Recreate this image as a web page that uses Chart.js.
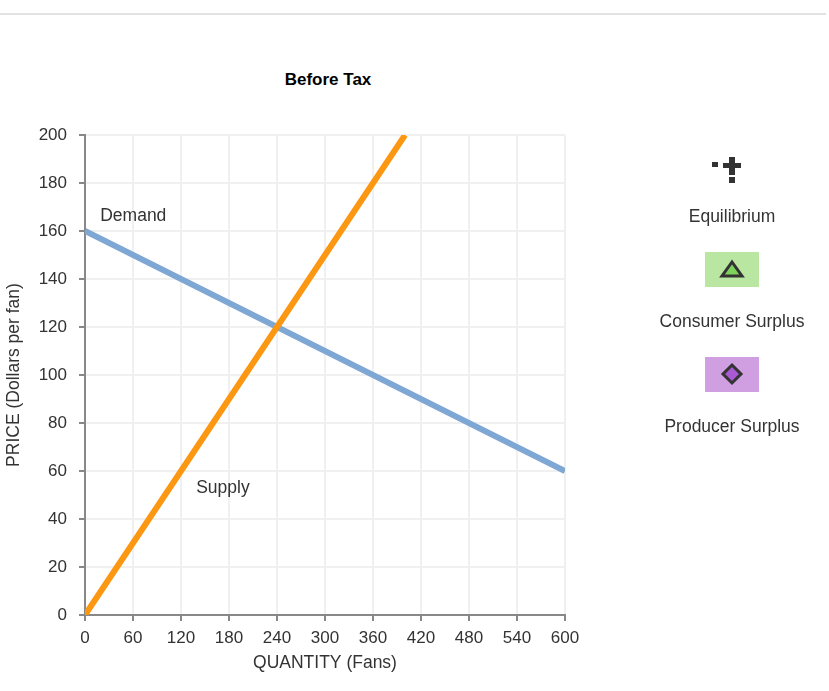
<!DOCTYPE html>
<html>
<head>
<meta charset="utf-8">
<script src="https://cdn.jsdelivr.net/npm/chart.js@4.4.0/dist/chart.umd.min.js"></script>
<style>
  html, body { margin: 0; padding: 0; background: #fff; }
  #wrap { position: relative; width: 829px; height: 691px; }
  #topline { position: absolute; left: 0; top: 13px; width: 826px; height: 0; border-top: 2px solid #e2e2e2; }
  #title { position: absolute; left: 228px; width: 200px; top: 70px; text-align: center;
           font: bold 17px "Liberation Sans", Arial, sans-serif; color: #000; }
  canvas { position: absolute; left: 0; top: 0; }
</style>
</head>
<body>
<div id="wrap">
  <div id="topline"></div>
  <div id="title">Before Tax</div>
  <canvas id="myChart" width="829" height="691"></canvas>
</div>
<script>
// tick values
var xTicks = [0, 60, 120, 180, 240, 300, 360, 420, 480, 540, 600];
var yTicks = [0, 20, 40, 60, 80, 100, 120, 140, 160, 180, 200];

// curves
var demandQty = [0, 600];
var demandPrice = [160, 60];
var supplyQty = [0, 400];
var supplyPrice = [0, 200];

// curve labels, in data units
var curveLabels = ['Demand', 'Supply'];
var curveLabelQty = [19, 139];
var curveLabelPrice = [166, 53];

// legend entries
var legendNames = ['Equilibrium', 'Consumer Surplus', 'Producer Surplus'];

function pts(xs, ys) {
  var out = [];
  for (var i = 0; i < xs.length; i++) out.push({x: xs[i], y: ys[i]});
  return out;
}

var FONT = '"Liberation Sans", Arial, sans-serif';

var extras = {
  id: 'extras',
  afterDraw: function(chart) {
    var c = chart.ctx;
    var xs = chart.scales.x, ys = chart.scales.y;
    c.save();
    c.font = '17.5px ' + FONT;
    c.fillStyle = '#333';
    c.textBaseline = 'middle';
    c.textAlign = 'left';
    for (var i = 0; i < curveLabels.length; i++) {
      c.fillText(curveLabels[i], xs.getPixelForValue(curveLabelQty[i]), ys.getPixelForValue(curveLabelPrice[i]));
    }

    // legend on the right
    var cx = 732;
    c.fillStyle = '#333';
    c.fillRect(712, 162, 6, 5);
    c.fillRect(723, 163, 18, 5);
    c.fillRect(729, 157, 6, 18);
    c.fillRect(729, 177, 6, 6);

    // consumer surplus swatch
    c.fillStyle = '#b9e6a1';
    c.fillRect(705, 252, 54, 35);
    c.beginPath();
    c.moveTo(cx, 262);
    c.lineTo(cx + 10, 276);
    c.lineTo(cx - 10, 276);
    c.closePath();
    c.fillStyle = '#7ed35b';
    c.fill();
    c.lineWidth = 3;
    c.lineJoin = 'miter';
    c.strokeStyle = '#333';
    c.stroke();

    // producer surplus swatch
    c.fillStyle = '#cf9fe2';
    c.fillRect(705, 357, 54, 35);
    c.beginPath();
    c.moveTo(cx, 365);
    c.lineTo(cx + 9, 374);
    c.lineTo(cx, 383);
    c.lineTo(cx - 9, 374);
    c.closePath();
    c.fillStyle = '#a95ad2';
    c.fill();
    c.stroke();

    c.fillStyle = '#333';
    c.textAlign = 'center';
    c.fillText(legendNames[0], cx, 217);
    c.fillText(legendNames[1], cx, 322);
    c.fillText(legendNames[2], cx, 427);
    c.restore();
  }
};

var ctx = document.getElementById('myChart').getContext('2d');
var chart = new Chart(ctx, {
  type: 'scatter',
  data: {
    datasets: [{
      label: 'Supply',
      data: pts(supplyQty, supplyPrice),
      showLine: true,
      borderColor: '#fb9711',
      borderWidth: 6,
      pointRadius: 0,
      fill: false
    }, {
      label: 'Demand',
      data: pts(demandQty, demandPrice),
      showLine: true,
      borderColor: '#7ea7d4',
      borderWidth: 6,
      pointRadius: 0,
      fill: false
    }]
  },
  options: {
    responsive: false,
    animation: false,
    layout: { padding: { top: 135, right: 264, bottom: 16, left: 0 } },
    plugins: { legend: { display: false }, tooltip: { enabled: false } },
    scales: {
      x: {
        type: 'linear',
        min: 0, max: 600,
        afterBuildTicks: function(s) { s.ticks = xTicks.map(function(v) { return {value: v}; }); },
        afterFit: function(s) { s.height = 60; },
        grid: { color: '#f0f0f0', lineWidth: 2, tickColor: '#888', tickLength: 6, tickWidth: 2 },
        border: { color: '#888', width: 2 },
        ticks: { color: '#333', font: { size: 17, family: FONT }, padding: 7, maxRotation: 0, autoSkip: false },
        title: { display: true, text: 'QUANTITY (Fans)', color: '#333', font: { size: 17.5, family: FONT }, padding: { top: 0, bottom: 1 } }
      },
      y: {
        type: 'linear',
        min: 0, max: 200,
        afterBuildTicks: function(s) { s.ticks = yTicks.map(function(v) { return {value: v}; }); },
        afterFit: function(s) { s.width = 85; },
        grid: { color: '#f0f0f0', lineWidth: 2, tickColor: '#888', tickLength: 6, tickWidth: 2 },
        border: { color: '#888', width: 2 },
        ticks: { color: '#333', font: { size: 17, family: FONT }, padding: 12, autoSkip: false },
        title: { display: true, text: 'PRICE (Dollars per fan)', color: '#333', font: { size: 17.5, family: FONT }, padding: { top: 4, bottom: 0 } }
      }
    }
  },
  plugins: [extras]
});
</script>
</body>
</html>
